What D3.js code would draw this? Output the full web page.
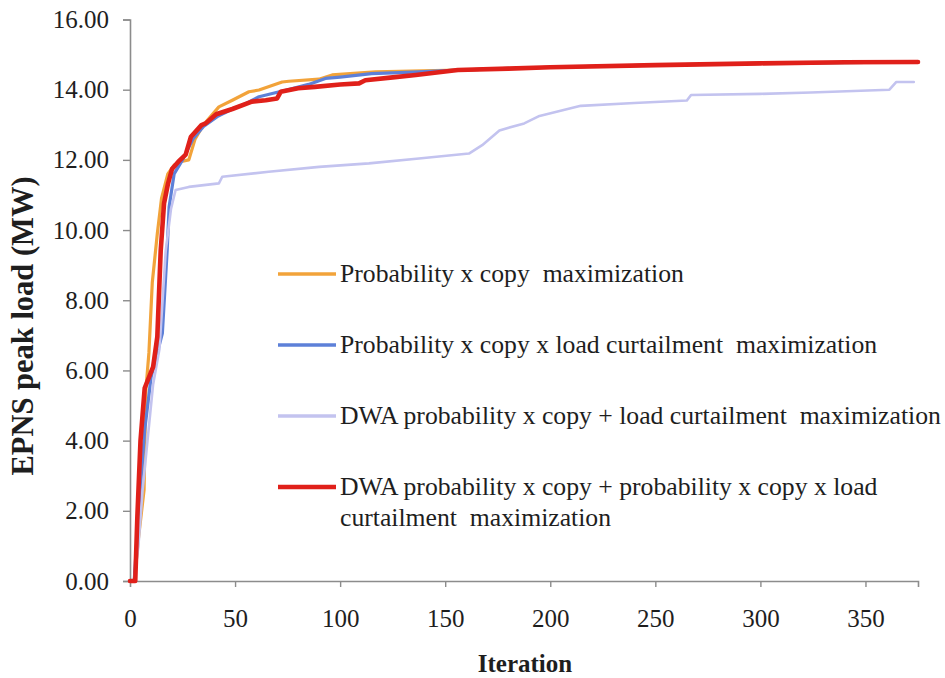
<!DOCTYPE html>
<html>
<head>
<meta charset="utf-8">
<script src="https://cdn.jsdelivr.net/npm/d3@7"></script>
<style>
  html, body { margin: 0; padding: 0; background: #fff; }
  svg { display: block; }
  text { font-family: "Liberation Serif", "Times New Roman", serif; fill: #1e1e1e; }
</style>
</head>
<body>
<svg id="chart" width="945" height="678"></svg>
<script>
// Iteration / EPNS peak load (MW) samples per strategy
const orangeIter = [0, 2, 4, 6.7, 7.5, 9, 10.6, 13, 15, 18, 21, 24, 28, 31, 35, 42.3, 48.7, 56.6, 61.4, 72.4, 75.6, 89.9, 96.2, 116.8, 156, 200, 250, 300, 375];
const orangeVal  = [0, 0, 1.2, 2.6, 5.4, 6.5, 8.5, 9.9, 10.9, 11.6, 11.85, 11.95, 12.0, 12.6, 13.0, 13.51, 13.7, 13.94, 13.99, 14.22, 14.24, 14.3, 14.42, 14.51, 14.56, 14.64, 14.7, 14.75, 14.79];

const blueIter = [0, 2, 4, 7, 10, 13, 15.4, 17.7, 18.6, 21, 25, 30, 35, 42, 48.7, 55, 61.4, 67.7, 75, 85, 93, 100, 115, 135, 156, 200, 250, 300, 375];
const blueVal  = [0, 0, 1.9, 4.3, 5.8, 6.5, 7.06, 9.43, 10.66, 11.6, 12.0, 12.6, 12.95, 13.25, 13.45, 13.6, 13.8, 13.89, 14.0, 14.15, 14.32, 14.36, 14.46, 14.5, 14.56, 14.64, 14.7, 14.75, 14.79];

const lavenderIter = [0, 2, 4, 6, 8.2, 11, 14, 17, 19.5, 21.7, 28, 42.3, 43.9, 66, 90, 113.7, 137.5, 161.3, 167.6, 170.8, 175.8, 187.6, 194.4, 214.5, 240, 265, 267, 300, 324, 361.4, 364.7, 373];
const lavenderVal  = [0, 0, 1.0, 2.6, 3.92, 5.6, 6.6, 9.4, 10.6, 11.14, 11.23, 11.33, 11.52, 11.66, 11.80, 11.90, 12.04, 12.18, 12.42, 12.58, 12.84, 13.04, 13.24, 13.54, 13.62, 13.69, 13.85, 13.88, 13.92, 14.0, 14.22, 14.22];

const redIter = [0, 2.5, 3.5, 5, 7, 11, 13, 14.6, 16.2, 18, 20, 23, 26.5, 29, 34, 36, 41, 48.7, 58, 64.6, 70, 71.7, 80, 88, 100, 109, 112, 125, 136, 156, 180, 200, 250, 300, 340, 375];
const redVal  = [0, 0, 1.83, 4.0, 5.5, 6.1, 6.96, 9.4, 10.76, 11.3, 11.74, 11.95, 12.15, 12.66, 12.99, 13.04, 13.3, 13.45, 13.66, 13.7, 13.75, 13.94, 14.04, 14.08, 14.15, 14.18, 14.27, 14.35, 14.42, 14.56, 14.6, 14.64, 14.7, 14.75, 14.78, 14.79];

const seriesNames = [
  ["Probability x copy  maximization"],
  ["Probability x copy x load curtailment  maximization"],
  ["DWA probability x copy + load curtailment  maximization"],
  ["DWA probability x copy + probability x copy x load", "curtailment  maximization"]
];
const yTicks = [0, 2, 4, 6, 8, 10, 12, 14, 16];
const xTicks = [0, 50, 100, 150, 200, 250, 300, 350];

const series = [
  { iter: orangeIter,   val: orangeVal,   color: "#f2a33a", width: 3.2 },
  { iter: blueIter,     val: blueVal,     color: "#5d80d8", width: 3.2 },
  { iter: lavenderIter, val: lavenderVal, color: "#c3c3ef", width: 2.6 },
  { iter: redIter,      val: redVal,      color: "#e0201a", width: 4.6 }
];

const svg = d3.select("#chart");
const x = d3.scaleLinear().domain([0, 375]).range([130, 918]);
const y = d3.scaleLinear().domain([0, 16]).range([581, 19.5]);
const axisColor = "#8c8c8c";
const serif = "'Liberation Serif', 'Times New Roman', serif";

// y axis
const gy = svg.append("g").attr("transform", `translate(${x(0)},0)`)
  .call(d3.axisLeft(y).tickValues(yTicks).tickFormat(d3.format(".2f")).tickSize(7).tickPadding(14));
// x axis
const gx = svg.append("g").attr("transform", `translate(0,${y(0)})`)
  .call(d3.axisBottom(x).tickValues(xTicks).tickSize(6).tickPadding(22));

[gy, gx].forEach(g => {
  g.select(".domain").attr("stroke", axisColor).attr("stroke-width", 1.6);
  g.selectAll(".tick line").attr("stroke", axisColor).attr("stroke-width", 1.4);
  g.selectAll(".tick text")
    .attr("font-family", serif)
    .attr("font-size", 25).attr("fill", "#1e1e1e");
});
gx.select(".tick line").attr("opacity", 0);

// series lines
const line = d3.line().x(d => x(d[0])).y(d => y(d[1]));
series.forEach(s => {
  const pts = s.iter.map((t, i) => [t, s.val[i]]);
  svg.append("path").datum(pts)
    .attr("fill", "none")
    .attr("stroke", s.color)
    .attr("stroke-width", s.width)
    .attr("stroke-linejoin", "round")
    .attr("stroke-linecap", "round")
    .attr("d", line);
});

// legend
const legendRows = [274, 345, 416, 487];
const legend = svg.append("g");
series.forEach((s, i) => {
  const ry = legendRows[i];
  legend.append("line")
    .attr("x1", 278).attr("x2", 336).attr("y1", ry).attr("y2", ry)
    .attr("stroke", s.color).attr("stroke-width", i === 3 ? 4.6 : 3.4);
  seriesNames[i].forEach((txt, j) => {
    legend.append("text")
      .attr("x", 340).attr("y", ry + 8 + j * 31)
      .attr("font-family", serif)
      .attr("font-size", 25.7)
      .style("white-space", "pre")
      .text(txt);
  });
});

// axis titles
svg.append("text")
  .attr("transform", `translate(33,326) rotate(-90)`)
  .attr("text-anchor", "middle")
  .attr("font-family", serif)
  .attr("font-size", 30.5).attr("font-weight", "bold")
  .text("EPNS peak load (MW)");
svg.append("text")
  .attr("x", 525).attr("y", 672)
  .attr("text-anchor", "middle")
  .attr("font-family", serif)
  .attr("font-size", 25).attr("font-weight", "bold")
  .text("Iteration");
</script>
</body>
</html>
